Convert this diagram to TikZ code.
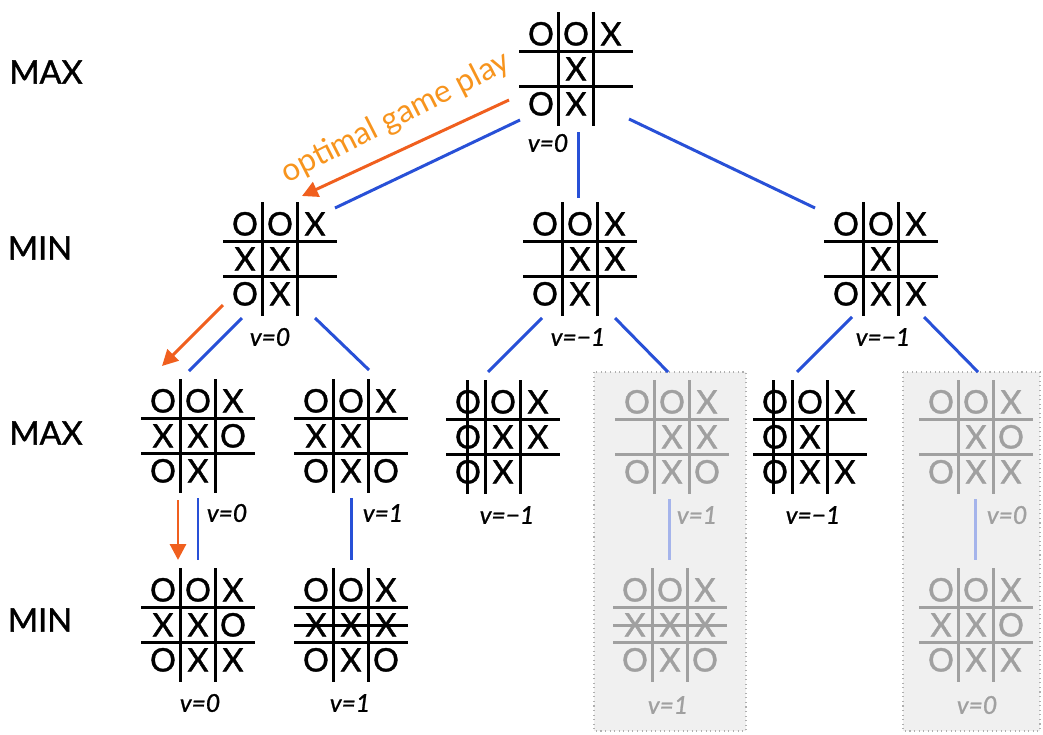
\documentclass[tikz,border=0pt]{standalone}
\usepackage{fontspec}
\setmainfont{Lato}
\newfontfamily\boardfont[FakeBold=1.2]{Lato}
\newfontfamily\vfont[FakeBold=1.0]{Lato}
\usetikzlibrary{arrows.meta}
\definecolor{edgeblue}{RGB}{40,80,215}
\definecolor{optorange}{RGB}{240,95,30}
\definecolor{textorange}{RGB}{247,148,29}
\definecolor{boxfill}{RGB}{240,240,240}
\definecolor{boxline}{RGB}{175,175,175}
\definecolor{fadegray}{RGB}{160,160,160}
\definecolor{fadeblue}{RGB}{165,180,235}
\tikzset{
  boardbox/.style={minimum size=0pt, inner sep=0pt},
  gridline/.style={line width=1.7pt},
  cellsym/.style={font=\boardfont\fontsize{18.5}{18.5}\selectfont, anchor=base, inner sep=0pt},
  vlabel/.style={font=\vfont\itshape\fontsize{14}{14}\selectfont, inner sep=0pt},
  level/.style={font=\boardfont\fontsize{18.5}{18.5}\selectfont, inner sep=0pt},
  edge/.style={edgeblue, line width=1.7pt},
  fadeedge/.style={fadeblue, line width=1.7pt},
  optarrow/.style={optorange, line width=1.7pt, -{Triangle[length=9pt,width=9pt]}},
  prunebox/.style={fill=boxfill, draw=boxline, dotted, line width=0.6pt},
}
\newcommand{\tttboard}[4][black]{%
  \node[boardbox] (#2) at (#3) {};
  \begin{scope}[shift={(#2.center)}]
    \draw[gridline,#1] (-17.5,-57) -- (-17.5,57) (17.5,-57) -- (17.5,57)
      (-57,-17.5) -- (57,-17.5) (-57,17.5) -- (57,17.5);
    \foreach \s [count=\i from 0] in {#4} {%
      \pgfmathtruncatemacro\cc{mod(\i,3)-1}%
      \pgfmathtruncatemacro\rr{int(\i/3)-1}%
      \if\s.\else\node[cellsym,text=#1] at (\cc*35,\rr*35+11.5) {\s};\fi
    }
  \end{scope}}
\begin{document}
\begin{tikzpicture}[x=0.02cm,y=-0.02cm]
\useasboundingbox (0,0) rectangle (1043,734);
% pruned boxes
\draw[prunebox] (594,372) rectangle (746,731);
\draw[prunebox] (903,372) rectangle (1040,731);
% level labels
\node[level] (l1) at (46,72) {MAX};
\node[level] (l2) at (40,248) {MIN};
\node[level] (l3) at (46,433) {MAX};
\node[level] (l4) at (40,620) {MIN};
% boards
\tttboard{root}{576,69}{O,O,X,.,X,.,O,X,.}
\tttboard{m1}{280,259}{O,O,X,X,X,.,O,X,.}
\tttboard{m2}{580,259}{O,O,X,.,X,X,O,X,.}
\tttboard{m3}{881,259}{O,O,X,.,X,.,O,X,X}
\tttboard{x1}{198,436}{O,O,X,X,X,O,O,X,.}
\tttboard{x2}{351,436}{O,O,X,X,X,.,O,X,O}
\tttboard{x3}{503,437}{O,O,X,O,X,X,O,X,.}
\tttboard[fadegray]{x4}{672,437}{O,O,X,.,X,X,O,X,O}
\tttboard{x5}{810,437}{O,O,X,O,X,.,O,X,X}
\tttboard[fadegray]{x6}{976,437}{O,O,X,.,X,O,O,X,X}
\tttboard{n1}{198,625}{O,O,X,X,X,O,O,X,X}
\tttboard{n2}{351,625}{O,O,X,X,X,X,O,X,O}
\tttboard[fadegray]{n3}{670,625}{O,O,X,X,X,X,O,X,O}
\tttboard[fadegray]{n4}{976,625}{O,O,X,X,X,O,O,X,X}
% winning lines
\draw[gridline] ([shift={(-36,-57)}]x3.center) -- ([shift={(-36,57)}]x3.center);
\draw[gridline] ([shift={(-37,-57)}]x5.center) -- ([shift={(-37,57)}]x5.center);
\draw[gridline] ([shift={(-57,0)}]n2.center) -- ([shift={(57,0)}]n2.center);
\draw[gridline,fadegray] ([shift={(-57,0)}]n3.center) -- ([shift={(57,0)}]n3.center);
% values
\node[vlabel] (vroot) at (548,143) {v=0};
\node[vlabel] (vm1) at (270,337) {v=0};
\node[vlabel] (vm2) at (578,337) {v=−1};
\node[vlabel] (vm3) at (883,337) {v=−1};
\node[vlabel] (vx1) at (227,513) {v=0};
\node[vlabel] (vx2) at (383,513) {v=1};
\node[vlabel] (vx3) at (507,515) {v=−1};
\node[vlabel,text=fadegray] (vx4) at (697,515) {v=1};
\node[vlabel] (vx5) at (813,515) {v=−1};
\node[vlabel,text=fadegray] (vx6) at (1007,515) {v=0};
\node[vlabel] (vn1) at (200,703) {v=0};
\node[vlabel] (vn2) at (350,703) {v=1};
\node[vlabel,text=fadegray] (vn3) at (668,705) {v=1};
\node[vlabel,text=fadegray] (vn4) at (977,705) {v=0};
% edges
\draw[edge] ([shift={(-56,51)}]root.center) -- ([shift={(55,-51)}]m1.center);
\draw[edge] ([shift={(2,63)}]root.center) -- ([shift={(-2,-61)}]m2.center);
\draw[edge] ([shift={(53,50)}]root.center) -- ([shift={(-66,-51)}]m3.center);
\draw[edge] ([shift={(-38,59)}]m1.center) -- ([shift={(-9,-65)}]x1.center);
\draw[edge] ([shift={(35,59)}]m1.center) -- ([shift={(18,-66)}]x2.center);
\draw[edge] ([shift={(-38,59)}]m2.center) -- ([shift={(-15,-65)}]x3.center);
\draw[edge] ([shift={(35,59)}]m2.center) -- ([shift={(-4,-65)}]x4.center);
\draw[edge] ([shift={(-29,58)}]m3.center) -- ([shift={(-13,-65)}]x5.center);
\draw[edge] ([shift={(43,58)}]m3.center) -- ([shift={(2,-65)}]x6.center);
\draw[edge] ([shift={(0,62)}]x1.center) -- ([shift={(0,-65)}]n1.center);
\draw[edge] ([shift={(0,62)}]x2.center) -- ([shift={(0,-65)}]n2.center);
\draw[fadeedge] ([shift={(-3,62)}]x4.center) -- ([shift={(-1,-65)}]n3.center);
\draw[fadeedge] ([shift={(-1,62)}]x6.center) -- ([shift={(-1,-65)}]n4.center);
% optimal play
\draw[optarrow] ([shift={(-67,31)}]root.center) -- ([shift={(22,-63)}]m1.center);
\draw[optarrow] ([shift={(-57,46)}]m1.center) -- ([shift={(-36,-70)}]x1.center);
\draw[optarrow] ([shift={(-20,64)}]x1.center) -- ([shift={(-20,-65)}]n1.center);
\node[text=textorange, rotate=27, font=\fontsize{18}{18}\selectfont, inner sep=0pt] (opt) at (396,118) {optimal game play};
\end{tikzpicture}
\end{document}
